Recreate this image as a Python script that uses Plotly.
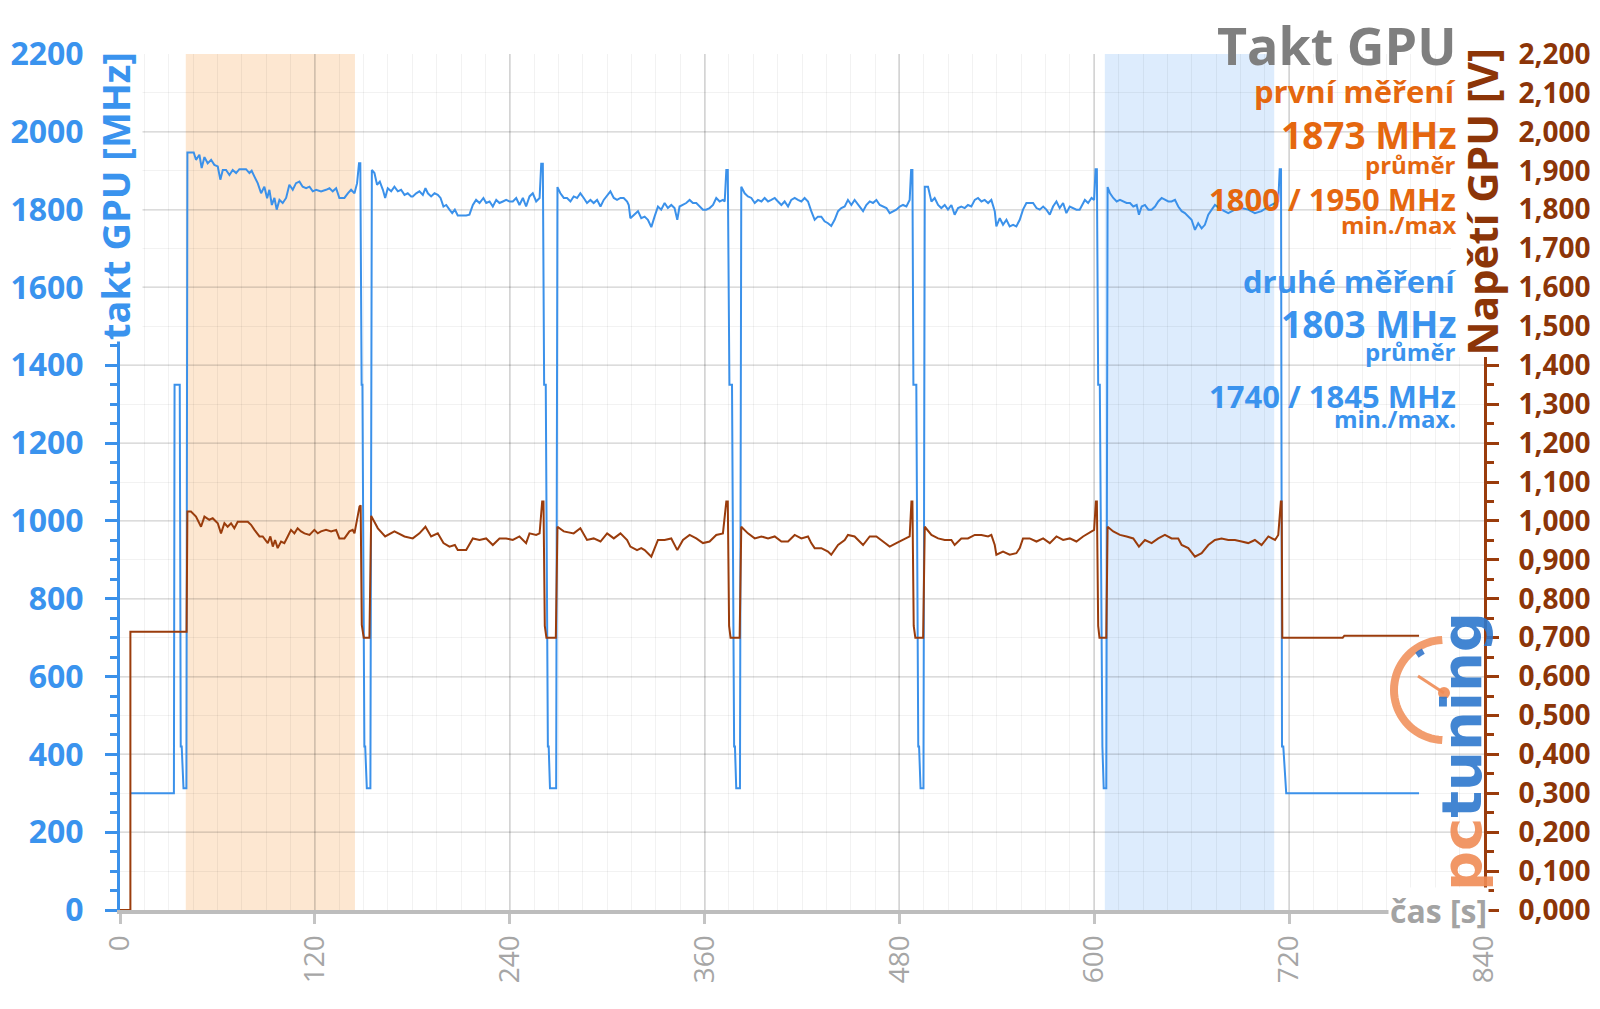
import math
import plotly.graph_objects as go

# ---------------- data ----------------
# GPU clock [MHz]: (time s, MHz)
clock_points = [
    (6.4, 300), (33.2, 300), (33.6, 1350), (36.8, 1350), (37.4, 420), (38.0, 420), (39.1, 313), (40.9, 313),
    (41.5, 1947), (45.4, 1947), (46.8, 1928), (48.9, 1941), (50.3, 1907), (52.0, 1935), (54.0, 1919), (56.1, 1928),
    (58.1, 1915), (60.2, 1911), (61.8, 1877), (63.3, 1902), (65.3, 1902), (67.4, 1889), (69.4, 1902), (71.5, 1894),
    (73.5, 1904), (77.6, 1904), (79.7, 1894), (81.1, 1900), (82.8, 1885), (84.8, 1868), (86.9, 1842), (88.9, 1859),
    (90.6, 1829), (92.0, 1851), (93.5, 1812), (95.1, 1830), (96.5, 1800), (98.2, 1825), (100.2, 1817), (102.3, 1830),
    (104.3, 1864), (106.4, 1851), (108.4, 1868), (110.5, 1872), (112.5, 1859), (114.6, 1855), (116.7, 1859),
    (118.7, 1847), (120.8, 1851), (123.8, 1847), (126.9, 1851), (129.0, 1855), (131.0, 1847), (133.1, 1855),
    (135.1, 1830), (138.2, 1830), (140.3, 1842), (142.3, 1851), (144.4, 1842), (146.0, 1868), (147.2, 1919),
    (148.0, 1919), (148.8, 1350), (149.3, 1350), (150.5, 420), (151.0, 420), (152.0, 313), (154.2, 313),
    (155.1, 1902), (156.7, 1894), (158.3, 1864), (160.0, 1872), (161.9, 1851), (163.3, 1830), (164.9, 1855),
    (167.0, 1847), (169.0, 1859), (171.1, 1847), (173.1, 1851), (175.2, 1838), (177.2, 1842), (179.3, 1834),
    (180.3, 1834), (182.4, 1842), (184.4, 1847), (186.5, 1838), (188.1, 1855), (189.6, 1842), (191.6, 1834),
    (193.7, 1842), (195.7, 1838), (197.4, 1830), (199.2, 1808), (200.9, 1812), (202.9, 1800), (204.6, 1791),
    (206.2, 1800), (208.0, 1785), (210.1, 1785), (213.2, 1785), (215.2, 1787), (217.3, 1812), (219.3, 1825),
    (221.4, 1817), (223.8, 1830), (225.5, 1817), (227.6, 1821), (229.6, 1808), (231.7, 1825), (233.7, 1817),
    (235.8, 1821), (237.8, 1825), (239.9, 1821), (241.9, 1821), (244.0, 1830), (246.0, 1812), (248.1, 1830),
    (250.1, 1808), (252.2, 1834), (254.2, 1842), (256.3, 1821), (258.4, 1830), (259.4, 1918),
    (260.4, 1918), (261.2, 1350), (262.2, 1350), (263.5, 420), (264.0, 420), (264.8, 313), (268.6, 313),
    (269.4, 1858), (271.2, 1842), (273.3, 1830), (275.3, 1830), (277.4, 1821), (279.4, 1834), (281.5, 1830),
    (283.5, 1842), (285.6, 1830), (287.6, 1817), (289.7, 1825), (291.7, 1817), (293.8, 1825), (295.9, 1808),
    (297.9, 1825), (300.0, 1838), (302.0, 1847), (304.1, 1830), (306.1, 1825), (308.2, 1830), (310.2, 1830),
    (312.3, 1821), (313.3, 1812), (314.3, 1778), (316.4, 1787), (319.0, 1796), (321.0, 1778), (323.1, 1782),
    (325.1, 1774), (327.2, 1755), (329.2, 1782), (331.3, 1808), (333.3, 1800), (335.4, 1817), (337.4, 1804),
    (339.5, 1812), (341.5, 1804), (343.2, 1774), (344.6, 1808), (346.7, 1812), (348.7, 1817), (350.8, 1825),
    (352.8, 1817), (354.9, 1817), (356.9, 1808), (359.0, 1800), (361.0, 1800), (363.1, 1804), (365.2, 1812),
    (367.2, 1830), (369.3, 1821), (371.3, 1825), (372.4, 1821), (373.4, 1902),
    (374.3, 1902), (375.3, 1350), (376.9, 1350), (378.2, 420), (378.7, 420), (379.5, 313), (381.8, 313),
    (382.6, 1859), (384.7, 1842), (386.7, 1834), (388.8, 1830), (390.9, 1817), (392.9, 1825), (395.0, 1821),
    (397.0, 1830), (399.1, 1821), (401.1, 1825), (403.2, 1830), (405.2, 1821), (407.3, 1812), (409.3, 1821),
    (411.4, 1808), (413.4, 1825), (415.5, 1830), (417.5, 1825), (419.6, 1821), (421.6, 1830), (423.7, 1821),
    (425.7, 1796), (427.8, 1774), (429.8, 1782), (431.9, 1782), (433.9, 1770), (436.0, 1765), (438.0, 1758),
    (440.1, 1774), (442.2, 1796), (444.2, 1804), (446.3, 1808), (448.3, 1825), (450.4, 1812), (452.4, 1825),
    (455.5, 1808), (457.6, 1796), (459.6, 1812), (461.7, 1821), (463.7, 1817), (465.8, 1825), (467.9, 1812),
    (469.9, 1808), (472.0, 1804), (474.0, 1791), (476.1, 1796), (478.1, 1800), (480.2, 1808), (482.2, 1812),
    (484.3, 1808), (486.3, 1825), (487.2, 1902),
    (488.0, 1902), (488.6, 1350), (490.4, 1350), (491.6, 420), (492.1, 420), (493.0, 313), (494.8, 313),
    (495.6, 1859), (497.6, 1859), (499.7, 1821), (501.7, 1830), (503.8, 1812), (505.8, 1804), (507.9, 1812),
    (509.9, 1800), (512.0, 1812), (514.0, 1787), (516.1, 1804), (518.1, 1808), (520.2, 1804), (522.2, 1812),
    (524.3, 1808), (526.4, 1825), (528.4, 1830), (530.5, 1821), (532.5, 1825), (534.6, 1817), (536.6, 1825),
    (538.7, 1796), (539.7, 1757), (541.8, 1778), (543.8, 1761), (545.9, 1774), (547.9, 1757), (550.0, 1761),
    (552.0, 1757), (554.1, 1774), (556.1, 1800), (558.2, 1817), (560.2, 1817), (562.3, 1817), (564.4, 1804),
    (566.4, 1800), (568.5, 1808), (570.5, 1800), (572.6, 1787), (574.6, 1808), (576.7, 1821), (578.7, 1804),
    (580.8, 1817), (582.8, 1791), (584.9, 1808), (586.9, 1804), (589.0, 1800), (591.0, 1800), (593.1, 1817),
    (594.2, 1825), (596.2, 1817), (598.3, 1830), (599.9, 1825), (600.8, 1904),
    (601.6, 1904), (602.4, 1350), (603.4, 1350), (604.6, 420), (605.0, 420), (605.8, 313), (607.4, 313),
    (608.2, 1858), (609.7, 1842), (611.7, 1830), (613.8, 1821), (615.8, 1825), (617.9, 1821), (619.9, 1817),
    (622.0, 1817), (624.0, 1808), (626.1, 1812), (627.5, 1787), (629.2, 1808), (631.2, 1812), (633.3, 1800),
    (635.3, 1800), (637.4, 1808), (639.4, 1821), (641.5, 1830), (643.5, 1825), (645.6, 1821), (647.6, 1821),
    (649.7, 1825), (651.7, 1808), (653.8, 1796), (655.8, 1791), (657.9, 1782), (659.9, 1774), (662.0, 1748),
    (664.0, 1765), (666.1, 1752), (668.1, 1761), (670.2, 1787), (672.2, 1800), (674.3, 1812), (678.4, 1800),
    (682.5, 1791), (686.6, 1800), (690.7, 1804), (694.8, 1800), (698.9, 1791), (703.0, 1796), (707.2, 1808),
    (711.3, 1817), (713.3, 1821), (714.2, 1904),
    (715.0, 1904), (715.6, 420), (716.4, 420), (718.2, 300), (800.0, 300),
]

# GPU voltage [V]: (time s, V)
volt_points = [
    (0.0, 0.0), (6.4, 0.0), (6.4, 0.715), (41.0, 0.715), (41.5, 1.024), (43.7, 1.024), (46.8, 1.011), (49.9, 0.985),
    (52.0, 1.011), (55.0, 1.003), (57.1, 1.007), (60.2, 0.994), (62.2, 0.968), (64.3, 0.994), (66.3, 0.985),
    (68.4, 0.994), (70.4, 0.981), (72.5, 0.998), (78.7, 0.998), (80.7, 0.990), (82.8, 0.977), (85.9, 0.960),
    (87.9, 0.960), (91.0, 0.943), (92.6, 0.960), (94.1, 0.934), (95.5, 0.951), (97.1, 0.930), (99.2, 0.947),
    (101.2, 0.943), (103.3, 0.960), (105.3, 0.977), (107.4, 0.968), (109.4, 0.981), (111.5, 0.973), (113.6, 0.968),
    (116.7, 0.964), (119.7, 0.977), (121.8, 0.968), (123.8, 0.973), (126.9, 0.977), (130.0, 0.973), (133.1, 0.977),
    (135.1, 0.955), (138.2, 0.955), (141.3, 0.973), (143.3, 0.977), (144.4, 0.968), (147.5, 1.037),
    (148.2, 1.040), (148.9, 0.733), (150.1, 0.700), (153.6, 0.700), (154.7, 1.013),
    (158.8, 0.981), (163.3, 0.960), (169.0, 0.973), (175.2, 0.960), (180.3, 0.955), (184.4, 0.968), (188.1, 0.985),
    (191.6, 0.960), (195.7, 0.968), (199.2, 0.943), (202.9, 0.934), (206.2, 0.938), (208.0, 0.925), (213.2, 0.925),
    (217.3, 0.955), (221.4, 0.951), (225.5, 0.955), (229.6, 0.938), (233.7, 0.955), (237.8, 0.955), (241.9, 0.951),
    (246.0, 0.960), (250.1, 0.943), (252.2, 0.968), (256.3, 0.964), (258.4, 0.968), (260.0, 1.050),
    (260.8, 1.050), (261.6, 0.730), (262.6, 0.700), (268.4, 0.700), (269.4, 0.985),
    (273.3, 0.973), (279.4, 0.968), (283.5, 0.981), (287.6, 0.951), (291.7, 0.955), (295.9, 0.947), (300.0, 0.968),
    (304.1, 0.955), (308.2, 0.968), (312.3, 0.951), (314.3, 0.934), (318.4, 0.925), (321.0, 0.930), (323.1, 0.925),
    (327.2, 0.908), (331.3, 0.951), (335.4, 0.951), (339.5, 0.955), (343.2, 0.925), (346.7, 0.951), (350.8, 0.964),
    (354.9, 0.955), (359.0, 0.943), (363.1, 0.947), (367.2, 0.964), (371.3, 0.968), (373.4, 1.050),
    (374.3, 1.050), (375.1, 0.730), (376.0, 0.700), (381.6, 0.700), (382.6, 0.985),
    (386.7, 0.968), (390.9, 0.955), (395.0, 0.960), (399.1, 0.955), (403.2, 0.960), (407.3, 0.947), (411.4, 0.947),
    (415.5, 0.964), (419.6, 0.955), (423.7, 0.960), (425.7, 0.943), (427.8, 0.930), (431.9, 0.930), (436.0, 0.921),
    (438.0, 0.913), (442.2, 0.938), (446.3, 0.951), (448.3, 0.964), (452.4, 0.960), (457.6, 0.938), (461.7, 0.960),
    (465.8, 0.960), (469.9, 0.947), (474.0, 0.934), (478.1, 0.943), (482.2, 0.951), (486.3, 0.960), (487.4, 1.050),
    (488.0, 1.050), (488.8, 0.730), (489.8, 0.700), (494.6, 0.700), (495.6, 0.985),
    (499.7, 0.964), (503.8, 0.955), (507.9, 0.951), (512.0, 0.951), (514.0, 0.938), (518.1, 0.955), (522.2, 0.955),
    (526.4, 0.964), (530.5, 0.964), (534.6, 0.960), (536.6, 0.964), (538.7, 0.938), (539.7, 0.913), (543.8, 0.921),
    (547.9, 0.913), (552.0, 0.917), (554.1, 0.930), (556.1, 0.955), (560.2, 0.955), (564.4, 0.947), (568.5, 0.955),
    (572.6, 0.943), (576.7, 0.960), (580.8, 0.951), (584.9, 0.955), (589.0, 0.947), (593.1, 0.960), (596.2, 0.968),
    (599.9, 0.977), (601.0, 1.050),
    (601.6, 1.050), (602.4, 0.730), (603.2, 0.700), (607.4, 0.700), (608.2, 0.985),
    (611.7, 0.973), (615.8, 0.964), (619.9, 0.960), (624.0, 0.955), (627.5, 0.934), (631.2, 0.951), (635.3, 0.943),
    (639.4, 0.955), (643.5, 0.964), (647.6, 0.955), (651.7, 0.955), (653.8, 0.938), (657.9, 0.930), (662.0, 0.908),
    (666.1, 0.917), (670.2, 0.938), (674.3, 0.951), (678.4, 0.955), (682.5, 0.951), (686.6, 0.951), (690.7, 0.947),
    (694.8, 0.943), (698.9, 0.951), (703.0, 0.938), (707.2, 0.960), (711.3, 0.951), (713.3, 0.964), (714.9, 1.050),
    (715.4, 1.050), (715.8, 0.700), (753.0, 0.700), (754.0, 0.705), (800.0, 0.705),
]

x_tick_values = [0, 120, 240, 360, 480, 600, 720, 840]
clock_tick_values = [0, 200, 400, 600, 800, 1000, 1200, 1400, 1600, 1800, 2000, 2200]
volt_tick_values = [round(i * 0.1, 1) for i in range(23)]
volt_tick_labels = [f"{v:.3f}".replace(".", ",") for v in volt_tick_values]

first_run_window = (40.5, 144.7)
second_run_window = (606.5, 710.8)

title_text = "Takt GPU"
first_label = "první měření"
first_avg = "1873 MHz"
first_minmax = "1800 / 1950 MHz"
second_label = "druhé měření"
second_avg = "1803 MHz"
second_minmax = "1740 / 1845 MHz"
avg_caption = "průměr"

# ---------------- styling ----------------
BLUE = "#3b91ea"
BLUE_TXT = "#3a93ee"
BROWN = "#9a3c0c"
BROWN_TXT = "#8c3508"
ORANGE = "#e5670f"
GRAY = "#7f7f7f"
FONT = "Open Sans"

# page pixel geometry of the plot area (the page body adds an 8px offset)
OFF = 8
PLOT_L, PLOT_R, PLOT_T, PLOT_B = 120, 1484, 54, 910

fig = go.Figure()
fig.add_trace(go.Scatter(
    x=[p[0] for p in clock_points], y=[p[1] for p in clock_points],
    mode="lines", line=dict(color=BLUE, width=2), yaxis="y", showlegend=False, hoverinfo="skip"))
fig.add_trace(go.Scatter(
    x=[p[0] for p in volt_points], y=[p[1] for p in volt_points],
    mode="lines", line=dict(color=BROWN, width=2), yaxis="y2", showlegend=False, hoverinfo="skip"))

shapes = [
    dict(type="rect", xref="x", yref="paper", x0=first_run_window[0], x1=first_run_window[1], y0=0, y1=1,
         fillcolor="rgba(252,224,196,0.78)", line=dict(width=0), layer="below"),
    dict(type="rect", xref="x", yref="paper", x0=second_run_window[0], x1=second_run_window[1], y0=0, y1=1,
         fillcolor="rgba(208,228,252,0.72)", line=dict(width=0), layer="below"),
]

# pctuning logo gauge (decoration), drawn in pixels relative to the plot's bottom-right corner
def arc_path(cx, cy, r, a0, a1, n=40):
    pts = []
    for i in range(n + 1):
        a = math.radians(a0 + (a1 - a0) * i / n)
        pts.append((cx + r * math.cos(a), cy + r * math.sin(a)))
    return "M " + " L ".join(f"{x:.1f},{y:.1f}" for x, y in pts)

gcx, gcy = -40, 220
logo_common = dict(xref="x", yref="y", xsizemode="pixel", ysizemode="pixel", xanchor=840, yanchor=0)
shapes.append(dict(type="path", path=arc_path(gcx, gcy, 50, 92, 268),
                   line=dict(color="rgba(240,140,85,0.85)", width=8), **logo_common))
shapes.append(dict(type="path", path=arc_path(gcx, gcy, 44, 118, 128, 6),
                   line=dict(color="rgba(40,110,200,0.85)", width=6), **logo_common))
shapes.append(dict(type="path", path=f"M {gcx-26},{gcy+14} L {gcx},{gcy-3}",
                   line=dict(color="rgba(240,140,85,0.9)", width=3), **logo_common))
shapes.append(dict(type="circle", x0=gcx - 6, x1=gcx + 6, y0=gcy - 9, y1=gcy + 3,
                   fillcolor="rgba(240,140,85,0.9)", line=dict(width=0), **logo_common))

def px_x(px):
    return (px - PLOT_L) / (PLOT_R - PLOT_L)
def px_y(py):
    return (PLOT_B - py) / (PLOT_B - PLOT_T)

ann = []
# axis titles first, so the stat texts are drawn over their white backgrounds
ann.append(dict(text="<b>takt GPU [MHz]</b>", textangle=-90, xref="paper", yref="paper",
                x=px_x(115), y=px_y(50), xanchor="center", yanchor="top", showarrow=False,
                bgcolor="white", font=dict(family=FONT, size=38, color=BLUE_TXT)))
ann.append(dict(text="<b>Napětí GPU [V]</b>", textangle=-90, xref="paper", yref="paper",
                x=px_x(1481), y=px_y(47), xanchor="center", yanchor="top", showarrow=False,
                bgcolor="white", font=dict(family=FONT, size=42, color=BROWN_TXT)))
ann.append(dict(text="<b>čas [s]</b>", xref="paper", yref="paper",
                x=px_x(1489), y=0, xanchor="right", yanchor="middle", showarrow=False,
                bgcolor="white", font=dict(family=FONT, size=32, color="#a3a3a3")))

RX = px_x(1458)
def side_text(text, py, size, color):
    ann.append(dict(text=f"<b>{text}</b>", xref="paper", yref="paper", x=RX, y=px_y(py),
                    xanchor="right", yanchor="middle", showarrow=False,
                    font=dict(family=FONT, size=size, color=color)))

side_text(title_text, 45, 52, GRAY)
side_text(first_label, 91, 31, ORANGE)
side_text(first_avg, 135, 37, ORANGE)
side_text(avg_caption, 164, 24, ORANGE)
side_text(first_minmax, 199, 31, ORANGE)
side_text("min./max", 224, 24, ORANGE)
side_text(second_label, 281, 31, BLUE_TXT)
side_text(second_avg, 323, 37, BLUE_TXT)
side_text(avg_caption, 351, 24, BLUE_TXT)
side_text(second_minmax, 396, 31, BLUE_TXT)
side_text("min./max.", 418, 24, BLUE_TXT)

# logo text
ann.append(dict(text='<span style="color:rgba(240,140,85,0.9)">pc</span>'
                     '<span style="color:rgba(45,120,205,0.9)">tuning</span>',
                textangle=-90, xref="paper", yref="paper", x=px_x(1461), y=px_y(752),
                xanchor="center", yanchor="middle", showarrow=False,
                font=dict(family="DejaVu Sans", size=56, weight="bold")))

fig.update_layout(
    width=1600, height=1009,
    margin=dict(l=PLOT_L - OFF, r=1600 - PLOT_R + OFF, t=PLOT_T - OFF, b=1009 - PLOT_B + OFF,
                autoexpand=False),
    paper_bgcolor="white", plot_bgcolor="white",
    shapes=shapes, annotations=ann, showlegend=False,
    xaxis=dict(range=[0, 840], tickvals=x_tick_values, tickangle=-90,
               tickfont=dict(family=FONT, size=28, color="#a6a6a6"),
               showline=True, linecolor="#bdbdbd", linewidth=4,
               ticks="outside", ticklen=10, tickwidth=3, tickcolor="#c4c4c4",
               ticklabelstandoff=0, automargin=False,
               showgrid=True, gridcolor="rgba(0,0,0,0.12)", gridwidth=1.5, zeroline=False,
               minor=dict(dtick=15, tick0=0, showgrid=True, gridcolor="rgba(0,0,0,0.05)", gridwidth=1)),
    yaxis=dict(range=[0, 2200], tickvals=clock_tick_values,
               tickfont=dict(family=FONT, size=32, color=BLUE_TXT, weight="bold"),
               showline=True, linecolor=BLUE, linewidth=3,
               ticks="outside", ticklen=12, tickwidth=3, tickcolor=BLUE,
               ticklabelstandoff=15, automargin=False,
               showgrid=True, gridcolor="rgba(0,0,0,0.09)", gridwidth=1.5, zeroline=False,
               minor=dict(dtick=50, tick0=0, ticks="outside", ticklen=7, tickwidth=3, tickcolor=BLUE,
                          showgrid=False)),
    yaxis2=dict(range=[0, 2.2], overlaying="y", side="right", anchor="x",
                tickvals=volt_tick_values, ticktext=volt_tick_labels,
                tickfont=dict(family=FONT, size=28, color=BROWN_TXT, weight="bold"),
                showline=True, linecolor=BROWN, linewidth=3,
                ticks="outside", ticklen=12, tickwidth=3, tickcolor=BROWN,
                ticklabelstandoff=14, automargin=False,
                showgrid=True, gridcolor="rgba(0,0,0,0.05)", gridwidth=1, zeroline=False,
                minor=dict(dtick=0.05, tick0=0, ticks="outside", ticklen=7, tickwidth=3, tickcolor=BROWN,
                           showgrid=False)),
    yaxis3=dict(range=[0, 2200], overlaying="y", side="left", anchor="x", tickvals=clock_tick_values,
                ticks="inside", ticklen=12, tickwidth=3, tickcolor=BLUE, showticklabels=False,
                showgrid=False, showline=False, zeroline=False),
    yaxis4=dict(range=[0, 2.2], overlaying="y", side="right", anchor="x", tickvals=volt_tick_values,
                ticks="inside", ticklen=12, tickwidth=3, tickcolor=BROWN, showticklabels=False,
                showgrid=False, showline=False, zeroline=False),
)

fig.write_html("out.html")
